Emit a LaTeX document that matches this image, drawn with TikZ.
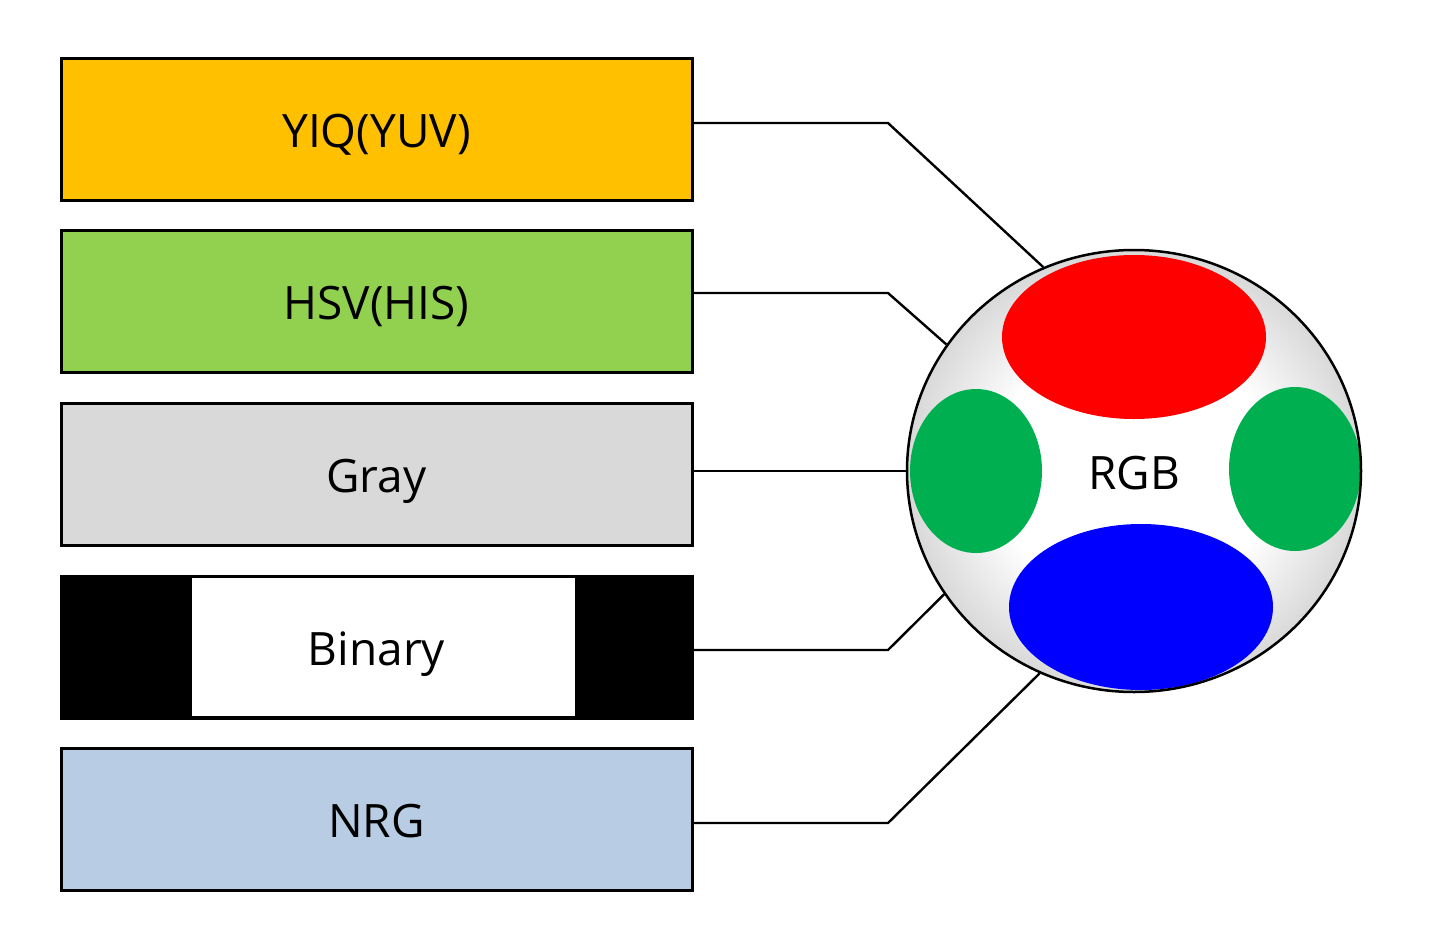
\documentclass[tikz,border=0pt]{standalone}
\usepackage{fontspec}
\setmainfont{Open Sans}
\usetikzlibrary{shapes.geometric}
\definecolor{cyellow}{HTML}{FFC000}
\definecolor{cgreen}{HTML}{92D050}
\definecolor{cgray}{HTML}{D9D9D9}
\definecolor{cblue}{HTML}{B8CCE4}
\definecolor{dgreen}{HTML}{00B050}
\pgfdeclareradialshading{ballshade}{\pgfpoint{0bp}{0bp}}{color(0bp)=(white); color(15bp)=(white); color(25bp)=(black!15); color(50bp)=(black!15)}
\begin{document}
\begin{tikzpicture}[x=1pt,y=-1pt,
  box/.style={draw=black, line width=3pt, rectangle, minimum width=631pt, minimum height=142pt, inner sep=0pt, text height=36pt, text depth=0pt, font=\fontsize{46}{50}\selectfont},
  link/.style={draw=black, line width=2.4pt}]
\useasboundingbox (0,0) rectangle (1440,929);
\node[box, fill=cyellow] (yiq) at (376.5,129) {YIQ(YUV)};
\node[box, fill=cgreen] (hsv) at (376.5,301.5) {HSV(HIS)};
\node[box, fill=cgray] (gray) at (376.5,474) {Gray};
\node[box, fill=black, draw=black, path picture={\fill[white] ([xshift=131pt,yshift=2pt]path picture bounding box.south west) rectangle ([xshift=-117pt,yshift=-2pt]path picture bounding box.north east);}] (bin) at (376.5,647) {Binary};
\node[box, fill=cblue] (nrg) at (376.5,819.5) {NRG};
\coordinate (c) at (1134,471);
\begin{scope}
  \clip (c) ellipse [x radius=227, y radius=221];
  \shade[shading=ballshade] (c) ellipse [x radius=227, y radius=221];
  \fill[red] (1134,337) ellipse [x radius=132, y radius=82];
  \fill[blue] (1141,607) ellipse [x radius=132, y radius=83];
  \fill[dgreen] (976,471) ellipse [x radius=66, y radius=82];
  \fill[dgreen] (1295,469) ellipse [x radius=66, y radius=82];
\end{scope}
\node[draw=black, line width=2.5pt, ellipse, minimum width=454pt, minimum height=442pt, inner sep=0pt, text height=36pt, text depth=0pt, font=\fontsize{46}{50}\selectfont] (rgb) at (c) {RGB};
\draw[link] ([yshift=6pt]yiq.east) -- (888,123) -- (rgb.114.8);
\draw[link] ([yshift=8.5pt]hsv.east) -- (888,293) -- (rgb.146.7);
\draw[link] ([yshift=3pt]gray.east) -- (rgb.west);
\draw[link] ([yshift=-3pt]bin.east) -- (888,650) -- (rgb.213.3);
\draw[link] ([yshift=-3.5pt]nrg.east) -- (888,823) -- (rgb.245.2);
\end{tikzpicture}
\end{document}
